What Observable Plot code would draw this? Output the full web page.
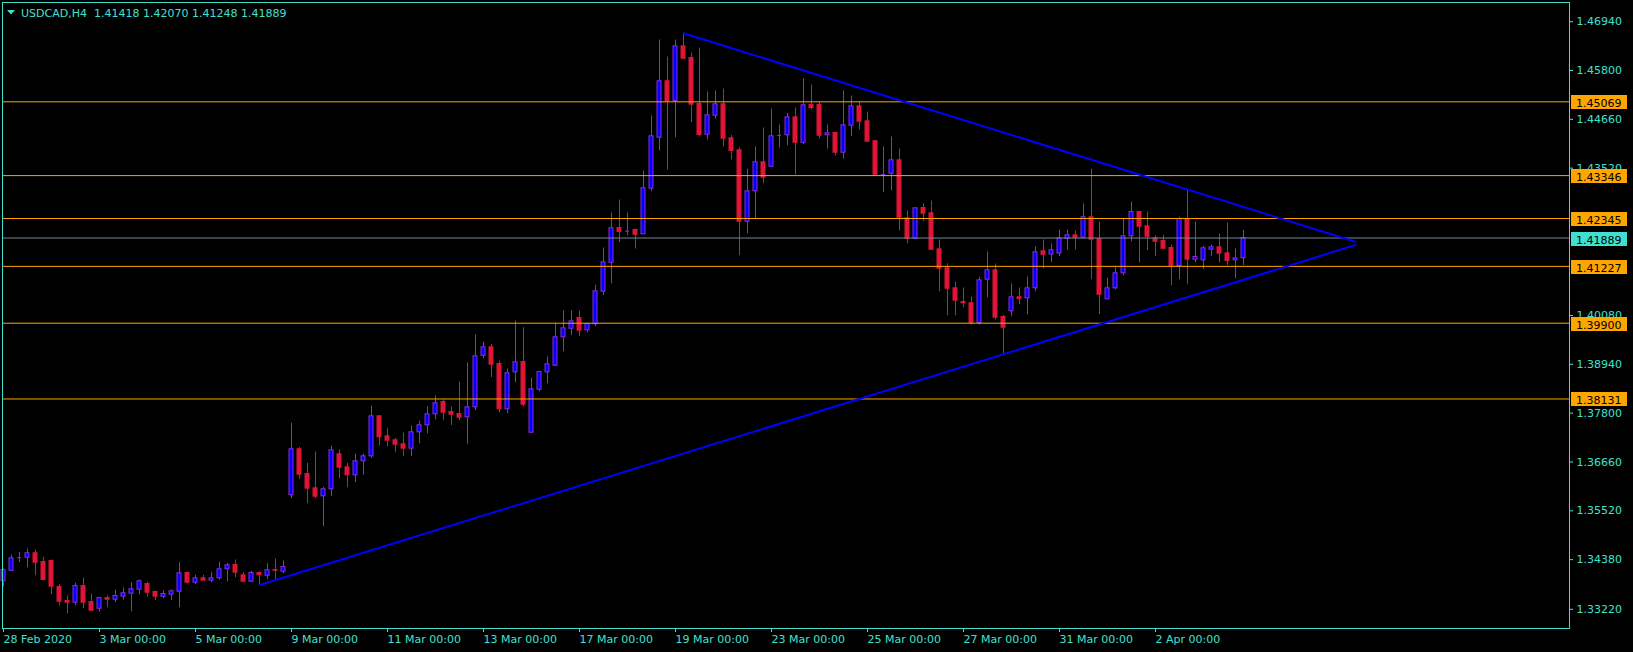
<!DOCTYPE html>
<html><head><meta charset="utf-8">
<script src="https://cdn.jsdelivr.net/npm/d3@7"></script>
<script src="https://cdn.jsdelivr.net/npm/@observablehq/plot@0.6"></script>
<style>
html,body{margin:0;padding:0;background:#000;overflow:hidden}
#chart svg{display:block}
</style></head><body><div id="chart"></div>
<script>
const symbolName = "USDCAD,H4";
const opens = [
 1.33874,1.34121,1.34425,1.34425,1.34528,1.34324,1.34348,1.33741,1.33414,1.33374,1.33764,1.33390,
 1.33234,1.33484,1.33444,1.33514,1.33585,1.33678,1.33811,1.33624,1.33514,1.33561,1.33631,1.34068,
 1.33841,1.33944,1.33888,1.33944,1.34154,1.34254,1.34014,1.33865,1.34068,1.34005,1.34138,1.34098,
 1.35882,1.36956,1.36379,1.36045,1.35858,1.36022,1.36839,1.36535,1.36349,1.36676,1.36792,1.37726,
 1.37259,1.37166,1.37073,1.36970,1.37353,1.37516,1.37773,1.38060,1.37827,1.37780,1.37703,1.37936,
 1.39141,1.39337,1.38947,1.37890,1.38754,1.38994,1.37343,1.38347,1.38754,1.38908,1.39571,1.39771,
 1.40021,1.39734,1.39874,1.40636,1.41312,1.42123,1.42050,1.42076,1.41976,1.43040,1.44231,1.45548,
 1.45088,1.46365,1.46092,1.45018,1.44301,1.44745,1.45011,1.44217,1.43937,1.42270,1.42980,1.43657,
 1.43554,1.44280,1.44287,1.44707,1.44114,1.44994,1.44994,1.44287,1.44341,1.43881,1.44511,1.44964,
 1.44614,1.44147,1.43370,1.43391,1.43703,1.42349,1.41873,1.42590,1.42466,1.41625,1.41182,1.40715,
 1.40395,1.40365,1.39905,1.40916,1.41135,1.40045,1.40178,1.40505,1.40481,1.40715,1.41579,1.41504,
 1.41527,1.41873,1.41952,1.41896,1.42373,1.41866,1.40458,1.40715,1.41065,1.41929,1.42496,1.42162,
 1.41882,1.41819,1.41656,1.41235,1.42333,1.41383,1.41369,1.41616,1.41672,1.41532,1.41369,1.41418];
const highs = [
 1.34161,1.34488,1.34551,1.34628,1.34605,1.34434,1.34371,1.33804,1.33531,1.33827,1.33951,1.33577,
 1.33490,1.33531,1.33671,1.33717,1.33841,1.33904,1.33858,1.33647,1.33647,1.33671,1.34308,1.34091,
 1.34014,1.34014,1.34084,1.34324,1.34294,1.34371,1.34075,1.34107,1.34091,1.34285,1.34395,1.34348,
 1.37563,1.37002,1.36629,1.36893,1.36068,1.37033,1.36939,1.36629,1.36846,1.36846,1.37967,1.37740,
 1.37446,1.37213,1.37336,1.37500,1.37610,1.37950,1.38200,1.38107,1.37943,1.38527,1.38971,1.39624,
 1.39461,1.39407,1.39017,1.38831,1.39951,1.39795,1.38621,1.38770,1.39111,1.39898,1.40185,1.40185,
 1.40185,1.39898,1.40785,1.41656,1.42473,1.42776,1.42473,1.42092,1.43454,1.44738,1.46512,1.46115,
 1.46512,1.46669,1.46209,1.46325,1.45298,1.45321,1.45368,1.44287,1.43990,1.43500,1.44014,1.44458,
 1.44901,1.44528,1.44801,1.44924,1.45601,1.45461,1.45072,1.44528,1.44350,1.45321,1.45205,1.45065,
 1.44831,1.44170,1.44014,1.44247,1.43967,1.42520,1.42590,1.42690,1.42753,1.41843,1.41289,1.40862,
 1.40722,1.40512,1.40972,1.41562,1.41282,1.40085,1.40815,1.40722,1.40979,1.41679,1.41843,1.41749,
 1.42076,1.42076,1.42053,1.42683,1.43500,1.42263,1.40955,1.41196,1.42333,1.42730,1.42500,1.42496,
 1.41936,1.41952,1.41719,1.42373,1.43003,1.42263,1.41695,1.41726,1.41983,1.42239,1.41632,1.42070];
const lows = [
 1.33741,1.34100,1.34308,1.34191,1.34005,1.33888,1.33561,1.33297,1.33117,1.33304,1.33234,1.33168,
 1.33157,1.33257,1.33374,1.33437,1.33164,1.33554,1.33507,1.33421,1.33468,1.33421,1.33257,1.33811,
 1.33795,1.33880,1.33841,1.33897,1.33865,1.33958,1.33841,1.33860,1.33771,1.33911,1.33904,1.34051,
 1.35802,1.36255,1.35686,1.35802,1.35149,1.35849,1.36269,1.36059,1.36176,1.36349,1.36746,1.37040,
 1.37016,1.36876,1.36783,1.36783,1.37087,1.37320,1.37647,1.37624,1.37507,1.37624,1.37073,1.37857,
 1.39071,1.38628,1.37810,1.37787,1.38511,1.37950,1.37330,1.38301,1.38487,1.38884,1.39235,1.39608,
 1.39585,1.39678,1.39818,1.40542,1.40822,1.41779,1.41943,1.41632,1.41970,1.42970,1.43921,1.43477,
 1.44231,1.46052,1.44581,1.44254,1.44177,1.44668,1.44014,1.43710,1.41476,1.41990,1.42349,1.43157,
 1.43550,1.43990,1.44044,1.43360,1.44067,1.44878,1.44201,1.43967,1.43804,1.43734,1.44254,1.44411,
 1.44114,1.43360,1.42947,1.42987,1.42053,1.41756,1.41850,1.42270,1.41610,1.40635,1.40075,1.40075,
 1.40262,1.39858,1.39858,1.40495,1.39975,1.39181,1.40052,1.40332,1.40091,1.40635,1.41165,1.41317,
 1.41453,1.41609,1.41609,1.41870,1.40916,1.40098,1.40450,1.40675,1.41009,1.41803,1.41306,1.41593,
 1.41453,1.41630,1.40776,1.40916,1.40799,1.41313,1.41149,1.41453,1.41306,1.41242,1.40939,1.41248];
const closes = [
 1.34138,1.34411,1.34425,1.34528,1.34308,1.33904,1.33748,1.33397,1.33374,1.33764,1.33374,1.33187,
 1.33484,1.33444,1.33531,1.33594,1.33687,1.33874,1.33608,1.33514,1.33577,1.33640,1.34061,1.33841,
 1.33944,1.33888,1.33944,1.34154,1.34247,1.34075,1.33865,1.34068,1.34014,1.34131,1.34121,1.34208,
 1.36956,1.36363,1.36036,1.35849,1.36022,1.36932,1.36526,1.36349,1.36676,1.36792,1.37726,1.37236,
 1.37157,1.37063,1.36970,1.37353,1.37516,1.37773,1.38030,1.37810,1.37764,1.37694,1.37936,1.39127,
 1.39337,1.38931,1.37890,1.38730,1.38987,1.37997,1.38357,1.38761,1.38940,1.39571,1.39781,1.39944,
 1.39725,1.39881,1.40645,1.41322,1.42116,1.42029,1.42050,1.41966,1.43050,1.44264,1.45548,1.45088,
 1.46365,1.46076,1.45002,1.44294,1.44754,1.45011,1.44208,1.43921,1.42270,1.42980,1.43657,1.43297,
 1.44264,1.44280,1.44707,1.44114,1.44987,1.44924,1.44278,1.44334,1.43881,1.44520,1.44964,1.44605,
 1.44138,1.43367,1.43370,1.43703,1.42363,1.41873,1.42583,1.42457,1.41616,1.41172,1.40705,1.40425,
 1.40365,1.39905,1.40902,1.41135,1.40028,1.39795,1.40505,1.40465,1.40715,1.41555,1.41499,1.41604,
 1.41882,1.41952,1.41889,1.42373,1.41850,1.40565,1.40715,1.41065,1.41929,1.42496,1.42153,1.41920,
 1.41803,1.41639,1.41235,1.42333,1.41383,1.41446,1.41649,1.41672,1.41523,1.41352,1.41415,1.41889];

const tickBars = [0,12,24,36,48,60,72,84,96,108,120,132,144];
const tickLabels = ["28 Feb 2020","3 Mar 00:00","5 Mar 00:00","9 Mar 00:00","11 Mar 00:00","13 Mar 00:00",
  "17 Mar 00:00","19 Mar 00:00","23 Mar 00:00","25 Mar 00:00","27 Mar 00:00","31 Mar 00:00","2 Apr 00:00"];
const priceTicks = [1.46940,1.45800,1.44660,1.43520,1.40080,1.38940,1.37800,1.36660,1.35520,1.34380,1.33220];
const levels = [1.45069,1.43346,1.42345,1.41227,1.39900,1.38131];
const lastPrice = 1.41889;
const upperTrend = [{bar:85, price:1.46669},{bar:169, price:1.41803}];
const lowerTrend = [{bar:32, price:1.33787},{bar:169, price:1.41726}];

const TURQ = "#40E0D0", BULL_FILL = "#0000FF", BULL_LINE = "#8A2BE2", BEAR = "#E01535",
      ORANGE = "#FFA500", GRAY = "#778899", TREND = "#0000FF";

const candles = opens.map((o, i) => ({
  bar: i, open: o, high: highs[i], low: lows[i], close: closes[i], up: closes[i] >= o
}));
const dojis = candles.filter(d => d.open === d.close);

const W = 1633, H = 652;
const chart = Plot.plot({
  width: W, height: H,
  marginLeft: 2, marginTop: 2, marginRight: 64, marginBottom: 24,
  style: {background: "#000", color: TURQ, fontFamily: "'DejaVu Sans', sans-serif", fontSize: "11px", overflow: "visible"},
  x: {domain: [-0.125, 195.75], axis: null},
  y: {domain: [1.32772, 1.47388], axis: null},
  color: {type: "identity"},
  marks: [
    Plot.ruleX(candles, {x: "bar", y1: "low", y2: "high", stroke: d => d.up ? BULL_LINE : BEAR, strokeWidth: 1}),
    Plot.rect(candles, {x1: d => d.bar - 0.25, x2: d => d.bar + 0.25, y1: "open", y2: "close",
      fill: d => d.up ? BULL_FILL : BEAR, stroke: d => d.up ? BULL_LINE : BEAR, strokeWidth: 1}),
    Plot.ruleY(dojis, {y: "open", x1: d => d.bar - 0.25, x2: d => d.bar + 0.25, stroke: BULL_LINE, strokeWidth: 1}),
    Plot.ruleY(levels, {stroke: ORANGE, strokeWidth: 1}),
    Plot.ruleY([lastPrice], {stroke: GRAY, strokeWidth: 1}),
    Plot.line(upperTrend, {x: "bar", y: "price", stroke: TREND, strokeWidth: 2}),
    Plot.line(lowerTrend, {x: "bar", y: "price", stroke: TREND, strokeWidth: 2}),
    Plot.axisX({anchor: "bottom", ticks: tickBars, tickFormat: d => tickLabels[tickBars.indexOf(d)],
      tickSize: 4, tickPadding: 3, textAnchor: "start", stroke: TURQ, fill: TURQ, label: null}),
    Plot.axisY({anchor: "right", ticks: priceTicks, tickFormat: d3.format(".5f"),
      tickSize: 3, tickPadding: 4, stroke: TURQ, fill: TURQ, label: null}),
    Plot.frame({stroke: TURQ})
  ]
});

const svg = d3.select(chart);
const yS = chart.scale("y");
function priceTag(v, bg) {
  const row = Math.floor(yS.apply(v) + 0.5);
  const g = svg.append("g");
  g.append("rect").attr("x", 1571).attr("y", row - 6).attr("width", 56).attr("height", 14).attr("fill", bg);
  g.append("text").attr("x", 1576).attr("y", row + 6).attr("fill", "#000").attr("text-anchor", "start")
    .attr("font-family", "'DejaVu Sans', sans-serif").attr("font-size", 11).text(d3.format(".5f")(v));
}
levels.forEach(v => priceTag(v, ORANGE));
priceTag(lastPrice, TURQ);

// header
const last = candles[candles.length - 1];
svg.append("path").attr("d", "M7,10L15,10L11,14.5Z").attr("fill", TURQ);
svg.append("text").attr("x", 21).attr("y", 17).attr("fill", TURQ).attr("text-anchor", "start")
  .attr("font-family", "'DejaVu Sans', sans-serif").attr("font-size", 11)
  .style("white-space", "pre")
  .text(`${symbolName}  ${[last.open, last.high, last.low, last.close].map(d3.format(".5f")).join(" ")}`);

document.getElementById("chart").appendChild(chart);
</script>
</body></html>
